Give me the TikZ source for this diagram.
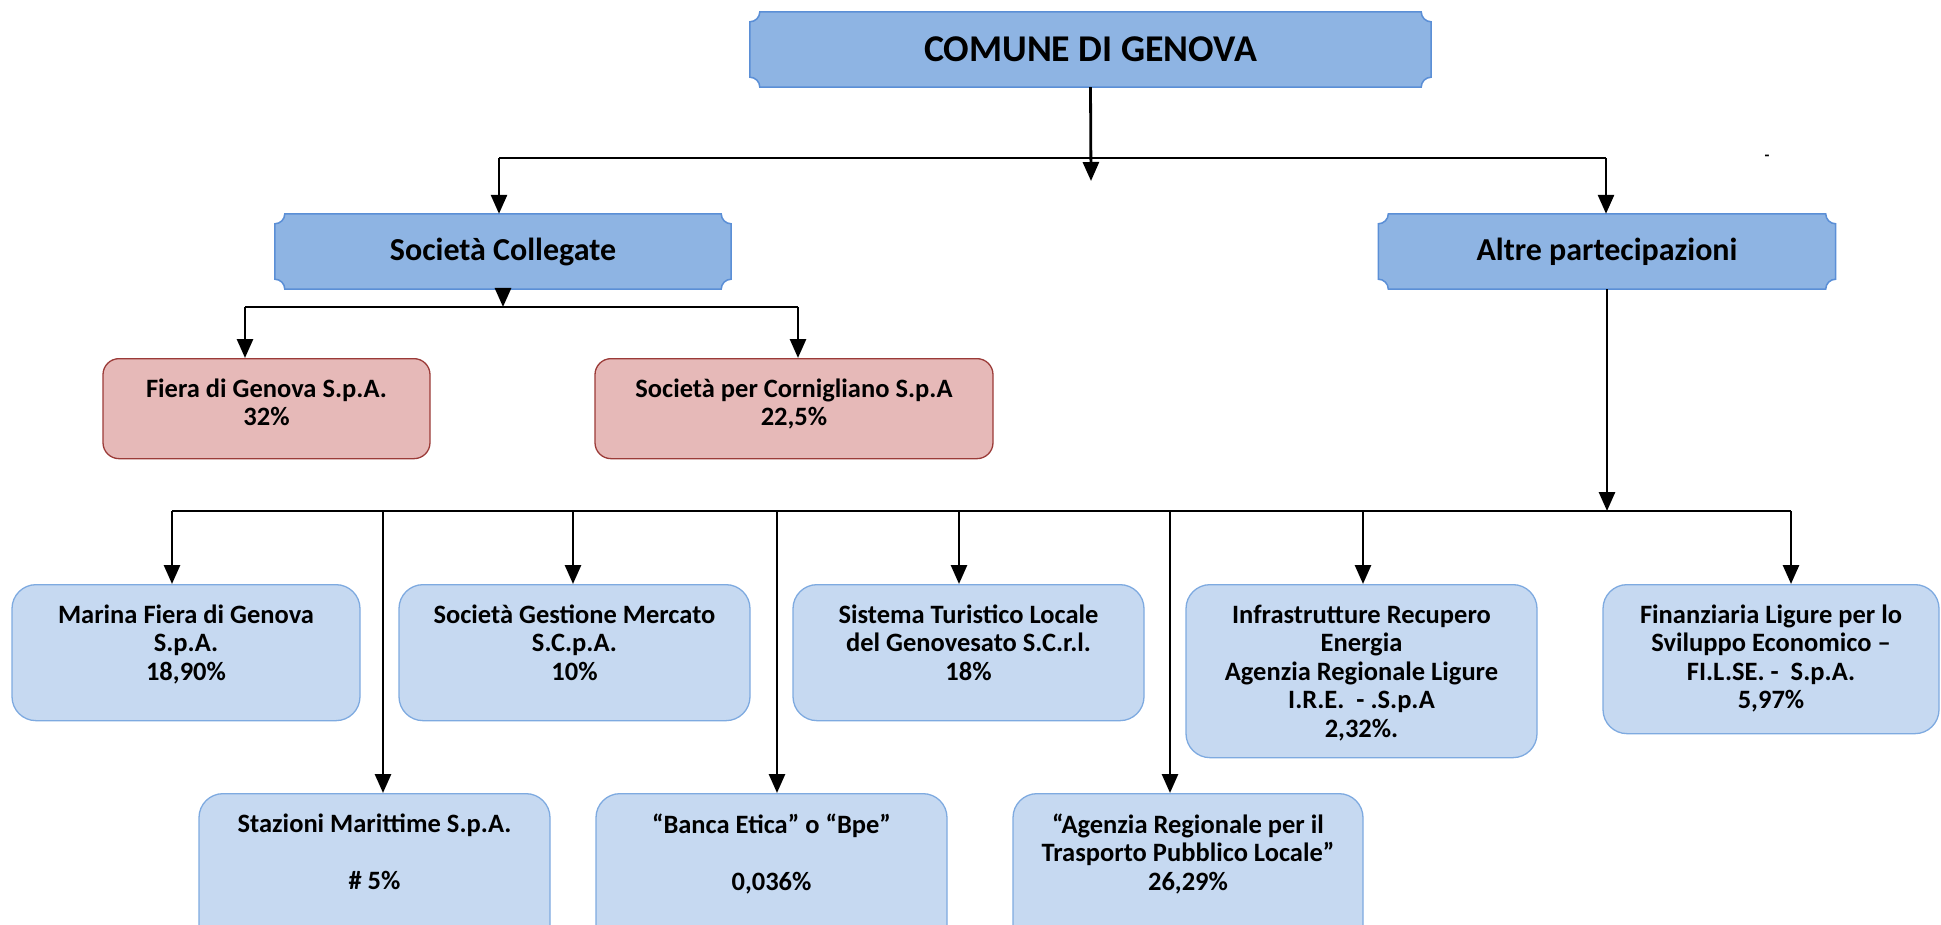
\documentclass[tikz,border=0pt]{standalone}
\usepackage{fontspec}
\setmainfont{Carlito}
\usetikzlibrary{arrows.meta}
\usetikzlibrary{backgrounds}
\usetikzlibrary{positioning}
\definecolor{plaquefill}{HTML}{8EB4E3}
\definecolor{plaqueline}{HTML}{5B8FD6}
\definecolor{rosefill}{HTML}{E6B9B8}
\definecolor{roseline}{HTML}{9B3B38}
\definecolor{leaffill}{HTML}{C6D9F1}
\definecolor{leafline}{HTML}{7EAAE0}
\tikzset{plaque/.style={fill=plaquefill, draw=plaqueline, line width=1.5pt}}
\tikzset{head/.style={minimum width=#1, minimum height=75pt, inner sep=0pt, font=\bfseries\fontsize{32}{37}\selectfont}}
\tikzset{card/.style n args={4}{draw=#3line, fill=#3fill, rounded corners=#4, line width=1.3pt,
  anchor=north, inner xsep=0pt, inner ysep=20pt, font=\bfseries\fontsize{26.5}{28.5}\selectfont,
  execute at begin node={\begin{minipage}[t][#2][t]{#1}\centering},
  execute at end node={\end{minipage}}}}
\tikzset{leaf/.style 2 args={card={#1}{#2}{leaf}{24pt}}}
\tikzset{rose/.style 2 args={card={#1}{#2}{rose}{16pt}}}
\tikzset{arrow/.style={line width=2.8pt, -{Triangle[length=19pt,width=16pt]}}}
\tikzset{bus/.style={line width=2pt}}
% plaque outline behind a named node
\newcommand{\plaqueof}[1]{%
  \begin{pgfonlayer}{background}
  \draw[plaque] ([yshift=-10pt]#1.north west) arc[start angle=-90, end angle=0, radius=10pt]
    -- ([xshift=-10pt]#1.north east) arc[start angle=180, end angle=270, radius=10pt]
    -- ([yshift=10pt]#1.south east) arc[start angle=90, end angle=180, radius=10pt]
    -- ([xshift=10pt]#1.south west) arc[start angle=0, end angle=90, radius=10pt] -- cycle;
  \end{pgfonlayer}}

\begin{document}
\begin{tikzpicture}[x=1pt, y=-1pt]
\useasboundingbox (0,0) rectangle (1941,925);

% headings
\node[head=681pt, font=\bfseries\fontsize{37.8}{44}\selectfont] (comune) at (1090.5,49.5) {COMUNE DI GENOVA};
\node[head=456pt] (collegate) at (503,251.5) {Società Collegate};
\node[head=457pt] (altre) at (1607,251.5) {Altre partecipazioni};
\plaqueof{comune}
\plaqueof{collegate}
\plaqueof{altre}

% collegate
\node[rose={327pt}{60pt}] (fiera) at (266.5,358) {Fiera di Genova S.p.A.\\32\%};
\node[rose={398pt}{60pt}] (cornigliano) at (794,358) {Società per Cornigliano S.p.A\\22,5\%};

% altre partecipazioni
\node[leaf={348pt}{96pt}] (marina) at (186,584) {Marina Fiera di Genova\\S.p.A.\\18,90\%};
\node[leaf={351pt}{96pt}] (mercato) at (574.5,584) {Società Gestione Mercato\\S.C.p.A.\\10\%};
\node[leaf={351pt}{96pt}] (turistico) at (968.5,584) {Sistema Turistico Locale\\del Genovesato S.C.r.l.\\18\%};
\node[leaf={351pt}{133pt}] (ire) at (1361.5,584) {Infrastrutture Recupero\\Energia\\Agenzia Regionale Ligure\\I.R.E.~~-~.S.p.A\\2,32\%.};
\node[leaf={336pt}{109pt}] (filse) at (1771,584) {Finanziaria Ligure per lo\\Sviluppo Economico –\\FI.L.SE.~-~~S.p.A.\\5,97\%};
\node[leaf={351pt}{150pt}] (stazioni) at (374.5,793) {Stazioni Marittime S.p.A.\\[28.5pt]\#~5\%};
\node[leaf={351pt}{150pt}] (bancaetica) at (771.5,793) {“Banca Etica” o “Bpe”\\[28.5pt]0,036\%};
\node[leaf={350pt}{150pt}] (tpl) at (1188,793) {“Agenzia Regionale per il\\Trasporto Pubblico Locale”\\26,29\%};

\node[font=\bfseries\fontsize{16}{18}\selectfont, inner sep=0pt] (tick) at (1767,158) {-};

% connectors
\coordinate (drop) at (1091,181);
\coordinate (b1l) at (499,158);
\coordinate (b1r) at (1606,158);
\coordinate (b2l) at (245,307);
\coordinate (b2r) at (798,307);
\coordinate (b3l) at (172,511);
\coordinate (b3r) at (1791,511);

\draw[bus] (b1l) -- (b1r);
\draw[arrow] (comune.south) -- (drop);
\draw[arrow] (b1l) -- (b1l |- collegate.north);
\draw[arrow] (b1r) -- (b1r |- altre.north);

\draw[bus] (b2l) -- (b2r);
\draw[arrow] (collegate.south) -- (collegate.south |- b2l);
\draw[arrow] (b2l) -- (b2l |- fiera.north);
\draw[arrow] (b2r) -- (b2r |- cornigliano.north);

\draw[bus] (b3l) -- (b3r);
\draw[arrow] (altre.south) -- (altre.south |- b3l);
\foreach \x/\n in {172/marina, 383/stazioni, 573/mercato, 777/bancaetica, 959/turistico, 1170/tpl, 1363/ire, 1791/filse} {
  \coordinate (d\n) at (\x,511);
  \draw[arrow] (d\n) -- (d\n |- \n.north);
}
\end{tikzpicture}
\end{document}
